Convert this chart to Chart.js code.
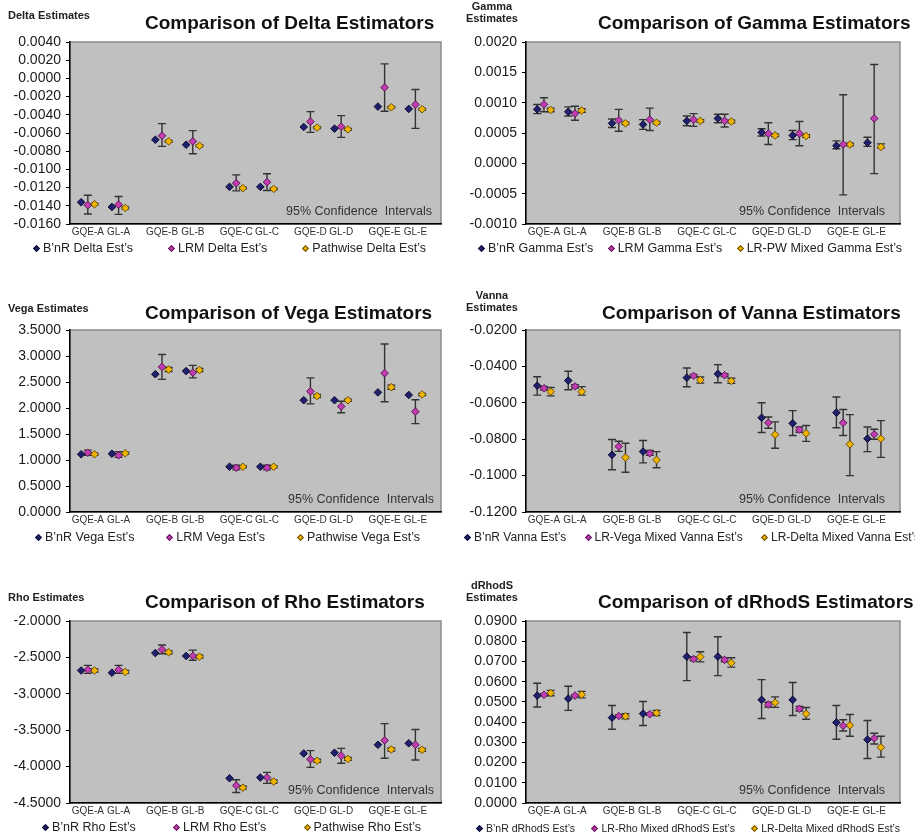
<!DOCTYPE html>
<html>
<head>
<meta charset="utf-8">
<script src="https://cdn.jsdelivr.net/npm/chart.js@4.4.1/dist/chart.umd.min.js"></script>
<style>
  html, body { margin: 0; padding: 0; background: #fff; overflow: hidden; }
  #page { position: relative; width: 915px; height: 840px; overflow: hidden;
          font-family: 'Liberation Sans', Arial, sans-serif; }
  canvas { position: absolute; }
  .title { position: absolute; font-weight: bold; font-size: 19px; line-height: 22px;
           color: #111; white-space: nowrap; }
  .ylab { position: absolute; font-weight: bold; font-size: 11px; line-height: 12px;
          color: #222; text-align: center; white-space: nowrap; }
  .legend { position: absolute; display: flex; justify-content: space-between; align-items: center;
            height: 16px; color: #222; white-space: nowrap; }
  .legend .item { display: flex; align-items: center; }
  .legend .mk { width: 5px; height: 5px; box-sizing: border-box; border: 1px solid;
                transform: rotate(45deg); margin-right: 4px; }
</style>
</head>
<body>
<div id="page">
  <div class="ylab" style="left:8px;top:9px;">Delta Estimates</div>
  <div class="title" style="left:145px;top:12px;">Comparison of Delta Estimators</div>

  <div class="ylab" style="left:466px;top:0px;">Gamma<br>Estimates</div>
  <div class="title" style="left:598px;top:12px;">Comparison of Gamma Estimators</div>

  <div class="ylab" style="left:8px;top:302px;">Vega Estimates</div>
  <div class="title" style="left:145px;top:302px;">Comparison of Vega Estimators</div>

  <div class="ylab" style="left:466px;top:289px;">Vanna<br>Estimates</div>
  <div class="title" style="left:602px;top:302px;">Comparison of Vanna Estimators</div>

  <div class="ylab" style="left:8px;top:591px;">Rho Estimates</div>
  <div class="title" style="left:145px;top:591px;">Comparison of Rho Estimators</div>

  <div class="ylab" style="left:466px;top:579px;">dRhodS<br>Estimates</div>
  <div class="title" style="left:598px;top:591px;">Comparison of dRhodS Estimators</div>
</div>

<script>
// ---- categories (two instruments per contract group) ----
const categories = ['GQE-A', 'GL-A', 'GQE-B', 'GL-B', 'GQE-C', 'GL-C', 'GQE-D', 'GL-D', 'GQE-E', 'GL-E'];

// ---- Delta ----
const deltaTicks = [0.004, 0.002, 0, -0.002, -0.004, -0.006, -0.008, -0.010, -0.012, -0.014, -0.016];
const deltaNames = ['B\u2019nR Delta Est\u2019s', 'LRM Delta Est\u2019s', 'Pathwise Delta Est\u2019s'];
const deltaBnr   = [-0.01361, -0.01413, -0.00674, -0.00729, -0.01192, -0.01192, -0.00534, -0.00552, -0.00310, -0.00335];
const deltaLrm   = [-0.01394, -0.01387, -0.00630, -0.00692, -0.01151, -0.01140, -0.00475, -0.00530, -0.00100, -0.00287];
const deltaLrmLo = [-0.01490, -0.01494, -0.00747, -0.00828, -0.01236, -0.01232, -0.00593, -0.00648, -0.00361, -0.00549];
const deltaLrmHi = [-0.01284, -0.01298, -0.00497, -0.00574, -0.01060, -0.01048, -0.00365, -0.00409, 0.00160, -0.00122];
const deltaPw    = [-0.01383, -0.01424, -0.00692, -0.00740, -0.01206, -0.01214, -0.00541, -0.00560, -0.00317, -0.00339];
const deltaPwLo  = [-0.01393, -0.01434, -0.00702, -0.00750, -0.01216, -0.01224, -0.00551, -0.00570, -0.00327, -0.00349];
const deltaPwHi  = [-0.01373, -0.01414, -0.00682, -0.00730, -0.01196, -0.01204, -0.00531, -0.00550, -0.00307, -0.00329];

// ---- Gamma ----
const gammaTicks = [0.002, 0.0015, 0.001, 0.0005, 0, -0.0005, -0.001];
const gammaNames = ['B\u2019nR Gamma Est\u2019s', 'LRM Gamma Est\u2019s', 'LR-PW Mixed Gamma Est\u2019s'];
const gammaBnr   = [0.00089, 0.00085, 0.00066, 0.00064, 0.00070, 0.00074, 0.00051, 0.00046, 0.00029, 0.00034];
const gammaBnrLo = [0.00082, 0.00078, 0.00059, 0.00056, 0.00062, 0.00067, 0.00045, 0.00039, 0.00024, 0.00028];
const gammaBnrHi = [0.00097, 0.00093, 0.00073, 0.00072, 0.00078, 0.00081, 0.00057, 0.00054, 0.00037, 0.00043];
const gammaLrm   = [0.00097, 0.00082, 0.00071, 0.00072, 0.00072, 0.00070, 0.00049, 0.00049, 0.00031, 0.00074];
const gammaLrmLo = [0.00085, 0.00071, 0.00053, 0.00054, 0.00061, 0.00060, 0.00031, 0.00029, -0.00052, -0.00017];
const gammaLrmHi = [0.00108, 0.00094, 0.00089, 0.00091, 0.00082, 0.00081, 0.00067, 0.00069, 0.00113, 0.00163];
const gammaPw    = [0.00088, 0.00087, 0.00066, 0.00067, 0.00070, 0.00069, 0.00046, 0.00045, 0.00031, 0.00027];
const gammaPwLo  = [0.00085, 0.00084, 0.00064, 0.00065, 0.00068, 0.00067, 0.00044, 0.00043, 0.00029, 0.00025];
const gammaPwHi  = [0.00091, 0.00090, 0.00068, 0.00069, 0.00072, 0.00071, 0.00048, 0.00047, 0.00033, 0.00032];

// ---- Vega ----
const vegaTicks = [3.5, 3.0, 2.5, 2.0, 1.5, 1.0, 0.5, 0];
const vegaNames = ['B\u2019nR Vega Est\u2019s', 'LRM Vega Est\u2019s', 'Pathwise Vega Est\u2019s'];
const vegaBnr   = [1.11, 1.12, 2.65, 2.71, 0.87, 0.87, 2.15, 2.15, 2.30, 2.25];
const vegaLrm   = [1.14, 1.09, 2.79, 2.68, 0.85, 0.85, 2.32, 2.03, 2.67, 1.93];
const vegaLrmLo = [1.09, 1.05, 2.55, 2.58, 0.81, 0.81, 2.08, 1.91, 2.12, 1.70];
const vegaLrmHi = [1.19, 1.16, 3.03, 2.82, 0.90, 0.90, 2.58, 2.13, 3.23, 2.16];
const vegaPw    = [1.11, 1.13, 2.74, 2.73, 0.87, 0.87, 2.23, 2.15, 2.40, 2.26];
const vegaPwLo  = [1.09, 1.11, 2.70, 2.70, 0.85, 0.85, 2.20, 2.13, 2.36, 2.24];
const vegaPwHi  = [1.13, 1.15, 2.78, 2.76, 0.89, 0.89, 2.26, 2.17, 2.44, 2.28];

// ---- Vanna ----
const vannaTicks = [-0.02, -0.04, -0.06, -0.08, -0.10, -0.12];
const vannaNames = ['B\u2019nR Vanna Est\u2019s', 'LR-Vega Mixed Vanna Est\u2019s', 'LR-Delta Mixed Vanna Est\u2019s'];
const vannaBnr   = [-0.0506, -0.0478, -0.0886, -0.0868, -0.0462, -0.0441, -0.0682, -0.0713, -0.0654, -0.0797];
const vannaBnrLo = [-0.0558, -0.0528, -0.0968, -0.0930, -0.0512, -0.0490, -0.0763, -0.0780, -0.0737, -0.0868];
const vannaBnrHi = [-0.0457, -0.0427, -0.0802, -0.0807, -0.0409, -0.0390, -0.0600, -0.0643, -0.0568, -0.0733];
const vannaLrm   = [-0.0520, -0.0510, -0.0840, -0.0877, -0.0452, -0.0448, -0.0710, -0.0748, -0.0710, -0.0773];
const vannaLrmLo = [-0.0530, -0.0519, -0.0867, -0.0889, -0.0460, -0.0456, -0.0740, -0.0762, -0.0780, -0.0800];
const vannaLrmHi = [-0.0510, -0.0501, -0.0811, -0.0862, -0.0444, -0.0440, -0.0678, -0.0733, -0.0637, -0.0745];
const vannaPw    = [-0.0539, -0.0539, -0.0901, -0.0914, -0.0475, -0.0480, -0.0775, -0.0768, -0.0828, -0.0797];
const vannaPwLo  = [-0.0562, -0.0558, -0.0982, -0.0957, -0.0492, -0.0493, -0.0850, -0.0812, -0.1000, -0.0900];
const vannaPwHi  = [-0.0516, -0.0511, -0.0822, -0.0868, -0.0458, -0.0465, -0.0705, -0.0725, -0.0665, -0.0698];

// ---- Rho ----
const rhoTicks = [-2.0, -2.5, -3.0, -3.5, -4.0, -4.5];
const rhoNames = ['B\u2019nR Rho Est\u2019s', 'LRM Rho Est\u2019s', 'Pathwise Rho Est\u2019s'];
const rhoBnr   = [-2.68, -2.71, -2.44, -2.48, -4.16, -4.15, -3.82, -3.81, -3.70, -3.68];
const rhoLrm   = [-2.67, -2.67, -2.39, -2.48, -4.26, -4.15, -3.90, -3.85, -3.64, -3.70];
const rhoLrmLo = [-2.72, -2.72, -2.45, -2.54, -4.355, -4.23, -4.01, -3.955, -3.885, -3.91];
const rhoLrmHi = [-2.61, -2.61, -2.33, -2.40, -4.18, -4.08, -3.78, -3.75, -3.41, -3.49];
const rhoPw    = [-2.68, -2.70, -2.43, -2.49, -4.29, -4.205, -3.92, -3.895, -3.765, -3.77];
const rhoPwLo  = [-2.70, -2.72, -2.45, -2.51, -4.31, -4.225, -3.94, -3.915, -3.785, -3.79];
const rhoPwHi  = [-2.66, -2.68, -2.41, -2.47, -4.27, -4.185, -3.90, -3.875, -3.745, -3.75];

// ---- dRhodS ----
const drhodsTicks = [0.09, 0.08, 0.07, 0.06, 0.05, 0.04, 0.03, 0.02, 0.01, 0];
const drhodsNames = ['B\u2019nR dRhodS Est\u2019s', 'LR-Rho Mixed dRhodS Est\u2019s', 'LR-Delta Mixed dRhodS Est\u2019s'];
const drhodsBnr   = [0.0531, 0.0516, 0.0422, 0.0442, 0.0724, 0.0724, 0.0510, 0.0510, 0.0398, 0.0313];
const drhodsBnrLo = [0.0475, 0.0458, 0.0365, 0.0383, 0.0605, 0.0630, 0.0418, 0.0433, 0.0315, 0.0220];
const drhodsBnrHi = [0.0592, 0.0577, 0.0482, 0.0502, 0.0843, 0.0822, 0.0610, 0.0596, 0.0482, 0.0408];
const drhodsLrm   = [0.0535, 0.0531, 0.0430, 0.0439, 0.0712, 0.0708, 0.0487, 0.0466, 0.0382, 0.0320];
const drhodsLrmLo = [0.0530, 0.0526, 0.0425, 0.0434, 0.0703, 0.0698, 0.0475, 0.0455, 0.0356, 0.0292];
const drhodsLrmHi = [0.0540, 0.0536, 0.0435, 0.0444, 0.0722, 0.0718, 0.0498, 0.0478, 0.0412, 0.0345];
const drhodsPw    = [0.0544, 0.0536, 0.0429, 0.0445, 0.0723, 0.0693, 0.0496, 0.0441, 0.0384, 0.0275];
const drhodsPwLo  = [0.0530, 0.0520, 0.0416, 0.0432, 0.0698, 0.0672, 0.0473, 0.0414, 0.0330, 0.0227];
const drhodsPwHi  = [0.0557, 0.0552, 0.0442, 0.0458, 0.0748, 0.0718, 0.0525, 0.0472, 0.0438, 0.0330];

// ---- styling ----
Chart.defaults.font.family = "'Liberation Sans', Arial, sans-serif";
const markerFill = ['#20206e', '#c23cb2', '#f0b400'];
const markerEdge = ['#0c0c32', '#5e1858', '#6a4e06'];
const seriesOffset = [-0.09, 0, 0.09];

// GQE sits left of centre and GL right of centre within each group unit
function catPos(i) { return Math.floor(i / 2) + (i % 2 ? 0.655 : 0.24); }
function fmt(v) { return (Math.abs(v) < 1e-12 ? 0 : v).toFixed(4); }

const plotBackground = {
  id: 'plotBackground',
  beforeDraw(chart) {
    const { ctx, chartArea: a } = chart;
    ctx.save();
    ctx.fillStyle = '#c0c0c0';
    ctx.fillRect(a.left, a.top, a.right - a.left, a.bottom - a.top);
    ctx.strokeStyle = '#8c8c8c';
    ctx.lineWidth = 1.5;
    ctx.strokeRect(a.left, a.top, a.right - a.left, a.bottom - a.top);
    ctx.restore();
  }
};

// vertical confidence-interval whiskers with caps, drawn beneath the markers
const errorBars = {
  id: 'errorBars',
  beforeDatasetsDraw(chart) {
    const { ctx } = chart;
    const ys = chart.scales.y;
    ctx.save();
    ctx.strokeStyle = '#333';
    ctx.lineWidth = 1.4;
    chart.data.datasets.forEach((ds, k) => {
      if (!ds.ciLo) return;
      chart.getDatasetMeta(k).data.forEach((pt, i) => {
        const x = pt.x;
        const y1 = ys.getPixelForValue(ds.ciLo[i]);
        const y2 = ys.getPixelForValue(ds.ciHi[i]);
        ctx.beginPath();
        ctx.moveTo(x, y1); ctx.lineTo(x, y2);
        ctx.moveTo(x - 4, y1); ctx.lineTo(x + 4, y1);
        ctx.moveTo(x - 4, y2); ctx.lineTo(x + 4, y2);
        ctx.stroke();
      });
    });
    ctx.restore();
  }
};

const ciNote = {
  id: 'ciNote',
  afterDatasetsDraw(chart, args, opts) {
    const { ctx, chartArea: a } = chart;
    ctx.save();
    ctx.font = "12.5px 'Liberation Sans', Arial, sans-serif";
    ctx.fillStyle = '#333';
    ctx.textAlign = 'right';
    ctx.textBaseline = 'middle';
    ctx.fillText('95% Confidence  Intervals', a.right - opts.inset, a.bottom - 12);
    ctx.restore();
  }
};

const page = document.getElementById('page');

const panels = [
  { left: 0, top: 0, width: 463, spacer: 22, inset: 9, ticks: deltaTicks, names: deltaNames,
    series: [{ v: deltaBnr }, { v: deltaLrm, lo: deltaLrmLo, hi: deltaLrmHi }, { v: deltaPw, lo: deltaPwLo, hi: deltaPwHi }],
    legend: { left: 34, top: 240, width: 392, size: 12.5 } },
  { left: 456, top: 0, width: 474, spacer: 30, inset: 15, ticks: gammaTicks, names: gammaNames,
    series: [{ v: gammaBnr, lo: gammaBnrLo, hi: gammaBnrHi }, { v: gammaLrm, lo: gammaLrmLo, hi: gammaLrmHi }, { v: gammaPw, lo: gammaPwLo, hi: gammaPwHi }],
    legend: { left: 479, top: 240, width: 423, size: 12.5 } },
  { left: 0, top: 288, width: 463, spacer: 22, inset: 7, ticks: vegaTicks, names: vegaNames,
    series: [{ v: vegaBnr }, { v: vegaLrm, lo: vegaLrmLo, hi: vegaLrmHi }, { v: vegaPw, lo: vegaPwLo, hi: vegaPwHi }],
    legend: { left: 36, top: 529, width: 384, size: 12.5 } },
  { left: 456, top: 288, width: 474, spacer: 30, inset: 15, ticks: vannaTicks, names: vannaNames,
    series: [{ v: vannaBnr, lo: vannaBnrLo, hi: vannaBnrHi }, { v: vannaLrm, lo: vannaLrmLo, hi: vannaLrmHi }, { v: vannaPw, lo: vannaPwLo, hi: vannaPwHi }],
    legend: { left: 465, top: 529, width: 455, size: 12 } },
  { left: 0, top: 579, width: 463, spacer: 22, inset: 7, ticks: rhoTicks, names: rhoNames,
    series: [{ v: rhoBnr }, { v: rhoLrm, lo: rhoLrmLo, hi: rhoLrmHi }, { v: rhoPw, lo: rhoPwLo, hi: rhoPwHi }],
    legend: { left: 43, top: 819, width: 378, size: 12.5 } },
  { left: 456, top: 579, width: 474, spacer: 30, inset: 15, ticks: drhodsTicks, names: drhodsNames,
    series: [{ v: drhodsBnr, lo: drhodsBnrLo, hi: drhodsBnrHi }, { v: drhodsLrm, lo: drhodsLrmLo, hi: drhodsLrmHi }, { v: drhodsPw, lo: drhodsPwLo, hi: drhodsPwHi }],
    legend: { left: 477, top: 820, width: 423, size: 10.5 } }
];

function makeLegend(p) {
  const d = document.createElement('div');
  d.className = 'legend';
  d.style.left = p.legend.left + 'px';
  d.style.top = p.legend.top + 'px';
  d.style.width = p.legend.width + 'px';
  d.style.fontSize = p.legend.size + 'px';
  p.names.forEach((n, k) => {
    const it = document.createElement('span');
    it.className = 'item';
    const mk = document.createElement('span');
    mk.className = 'mk';
    mk.style.background = markerFill[k];
    mk.style.borderColor = markerEdge[k];
    const tx = document.createElement('span');
    tx.textContent = n;
    it.appendChild(mk);
    it.appendChild(tx);
    d.appendChild(it);
  });
  page.appendChild(d);
}

function makeChart(p) {
  const cv = document.createElement('canvas');
  cv.width = p.width;
  cv.height = 262;
  cv.style.left = p.left + 'px';
  cv.style.top = p.top + 'px';
  page.insertBefore(cv, page.firstChild);

  const datasets = p.series.map((s, k) => ({
    label: p.names[k],
    data: s.v.map((y, i) => ({ x: catPos(i) + seriesOffset[k], y })),
    ciLo: s.lo || null,
    ciHi: s.hi || null,
    showLine: false,
    pointStyle: 'rectRot',
    pointRadius: 3.8,
    pointHoverRadius: 3.8,
    pointBackgroundColor: markerFill[k],
    pointBorderColor: markerEdge[k],
    pointBorderWidth: 1
  }));

  const yt = p.ticks;
  new Chart(cv, {
    type: 'scatter',
    data: { datasets },
    options: {
      responsive: false,
      animation: false,
      devicePixelRatio: 1,
      events: [],
      layout: { padding: { top: 42, bottom: 24, left: 0, right: 0 } },
      plugins: { legend: { display: false }, tooltip: { enabled: false }, ciNote: { inset: p.inset } },
      scales: {
        x: {
          type: 'linear', min: 0, max: 5,
          grid: { display: false, drawTicks: false },
          border: { color: '#000', width: 1.5 },
          afterBuildTicks: sc => { sc.ticks = categories.map((c, i) => ({ value: catPos(i) })); },
          afterFit: sc => { sc.height = 14; },
          ticks: { autoSkip: false, maxRotation: 0, minRotation: 0, padding: 2, color: '#333',
                   font: { size: 10 }, callback: (v, i) => categories[i] }
        },
        y: {
          type: 'linear', position: 'left',
          min: Math.min(...yt), max: Math.max(...yt),
          afterBuildTicks: sc => { sc.ticks = yt.map(v => ({ value: v })); },
          afterFit: sc => { sc.width = 70; },
          grid: { display: true, drawOnChartArea: false, drawTicks: true, tickLength: 4, color: '#000' },
          border: { color: '#000', width: 1.5 },
          ticks: { autoSkip: false, padding: 5, color: '#1a1a1a', font: { size: 14 }, callback: v => fmt(v) }
        },
        spacer: {
          type: 'linear', position: 'right', display: true,
          grid: { display: false }, border: { display: false }, ticks: { display: false },
          afterFit: sc => { sc.width = p.spacer; }
        }
      }
    },
    plugins: [plotBackground, errorBars, ciNote]
  });
  makeLegend(p);
}

panels.forEach(makeChart);
</script>
</body>
</html>
